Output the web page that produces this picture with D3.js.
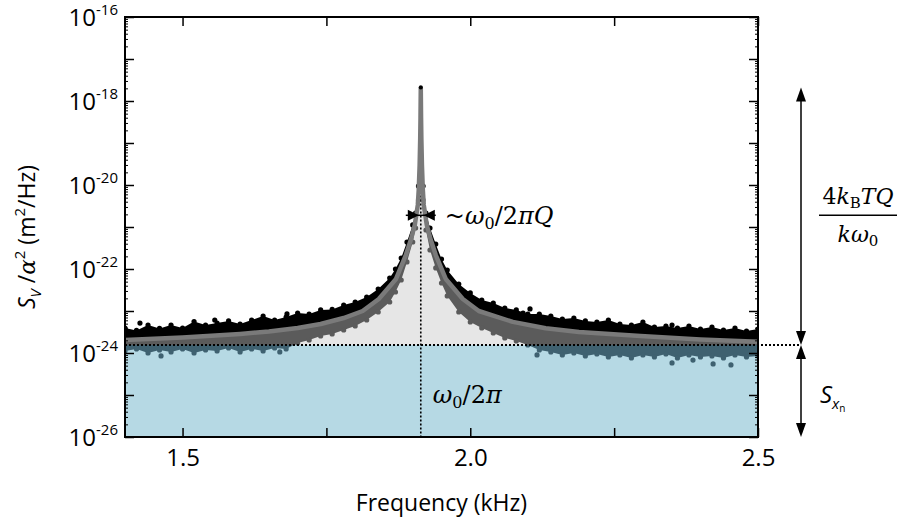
<!DOCTYPE html>
<html lang="en">
<head>
<meta charset="utf-8">
<title>Thermal spectrum</title>
<script src="https://cdn.jsdelivr.net/npm/d3@7"></script>
<style>
  body { margin: 0; background: #fff; }
  text { font-family: "Open Sans", sans-serif; fill: #000; }
  .math { font-family: "DejaVu Serif", serif; }
</style>
</head>
<body>
<div id="chart"></div>
<script>
// ---- data ----
const xTicks = [1.5, 1.75, 2.0, 2.25, 2.5];
const xTickLabels = ["1.5", "", "2.0", "", "2.5"];
const yLabelExps = [-16, -18, -20, -22, -24, -26];

// resonance, noise floor, peak height
const f0 = 1.914;
const floorPsd = 1.55e-24;
const peakPsd = 2.1e-18;
const widthMarkPsd = 1.9e-21;

// fitted curve (kHz, m^2/Hz)
const fitFreq = [1.40, 1.50, 1.60, 1.65, 1.70, 1.74, 1.78, 1.813, 1.841, 1.871, 1.888, 1.8966, 1.9036, 1.9088,
  1.9105, 1.912, 1.913, 1.9135, 1.914, 1.9145, 1.915, 1.916, 1.9175, 1.9192, 1.9244, 1.9314, 1.9401, 1.9574,
  1.987, 2.0148, 2.074, 2.131, 2.189, 2.296, 2.40, 2.50];
const fitPsd = [2.04e-24, 2.35e-24, 2.85e-24, 3.25e-24, 3.95e-24, 4.9e-24, 6.8e-24, 1.0e-23, 1.93e-23, 5.8e-23, 2.15e-22, 4.9e-22, 1.12e-21, 3.34e-21,
  8e-21, 3e-20, 1.3e-19, 4e-19, 2.1e-18, 4e-19, 1.3e-19, 3e-20, 8e-21, 3.34e-21, 1.12e-21, 4.9e-22, 2.15e-22, 5.8e-23,
  1.93e-23, 1.0e-23, 5.5e-24, 3.9e-24, 3.16e-24, 2.54e-24, 2.1e-24, 1.85e-24];

// scatter bands: upper edge of the black points, lower edge of the grey points
const bandFreq = [1.40, 1.42, 1.44, 1.46, 1.48, 1.50, 1.52, 1.54, 1.56, 1.58, 1.60, 1.62, 1.64, 1.66, 1.68, 1.70,
  1.72, 1.74, 1.76, 1.78, 1.80, 1.82, 1.84, 1.86, 1.87, 1.88, 1.89, 1.90, 1.905, 1.91, 1.913, 1.914, 1.915,
  1.918, 1.923, 1.93, 1.94, 1.95, 1.96, 1.98, 2.00, 2.02, 2.04, 2.06, 2.08, 2.10, 2.12, 2.14, 2.16, 2.18, 2.20,
  2.22, 2.24, 2.26, 2.28, 2.30, 2.32, 2.34, 2.36, 2.38, 2.40, 2.42, 2.44, 2.46, 2.48, 2.50];
const blackTop = [3.94e-24, 3.44e-24, 4.64e-24, 3.84e-24, 4.64e-24, 3.94e-24, 5.6e-24, 4.64e-24, 5.17e-24, 5.8e-24, 4.9e-24, 6.11e-24, 7.6e-24, 6.11e-24, 7.2e-24, 8.96e-24,
  8.49e-24, 1.06e-23, 1.09e-23, 1.39e-23, 1.64e-23, 2.15e-23, 3.34e-23, 6.11e-23, 1.0e-22, 1.83e-22, 4.39e-22, 1.12e-21, 2.15e-21, 9.46e-21, 1.3e-19, 2.1e-18, 1.3e-19,
  9.46e-21, 2.15e-21, 9.46e-22, 3.94e-22, 1.73e-22, 9.46e-23, 4.39e-23, 2.69e-23, 1.83e-23, 1.55e-23, 1.18e-23, 1.06e-23, 8.49e-24, 8.49e-24, 7.6e-24, 6.45e-24, 6.81e-24, 5.8e-24,
  5.47e-24, 6.11e-24, 4.9e-24, 4.64e-24, 5.47e-24, 4.15e-24, 4.39e-24, 3.94e-24, 4.39e-24, 3.73e-24, 4.15e-24, 3.53e-24, 3.94e-24, 3.34e-24, 3.73e-24];
const greyBottom = [1.12e-24, 1.25e-24, 1.0e-24, 1.18e-24, 1.06e-24, 1.25e-24, 1.0e-24, 1.18e-24, 1.12e-24, 1.32e-24, 1.06e-24, 1.25e-24, 1.12e-24, 1.32e-24, 1.25e-24, 1.73e-24,
  2.04e-24, 2.54e-24, 2.83e-24, 3.53e-24, 4.39e-24, 6.11e-24, 9.46e-24, 1.64e-23, 2.83e-23, 5.47e-23, 1.47e-22, 4.39e-22, 9.46e-22, 4.39e-21, 1.0e-19, 1.8e-18, 1.0e-19,
  4.39e-21, 8.49e-22, 2.83e-22, 1.06e-22, 4.64e-23, 2.28e-23, 9.46e-24, 5.47e-24, 3.94e-24, 2.99e-24, 2.28e-24, 1.93e-24, 1.55e-24, 1.18e-24, 1.06e-24, 8.96e-25, 1.0e-24, 8.49e-25,
  9.46e-25, 8.03e-25, 8.96e-25, 7.6e-25, 8.96e-25, 8.03e-25, 9.46e-25, 7.6e-25, 8.96e-25, 8.03e-25, 8.49e-25, 7.6e-25, 8.96e-25, 8.03e-25, 8.49e-25];

// stray points
const blackOutFreq = [1.426, 1.556, 1.6815, 2.0917, 2.1038, 2.3506];
const blackOutPsd = [5.17e-24, 6.1e-24, 8.5e-24, 8.96e-24, 1.12e-23, 4.64e-24];
const greyOutFreq = [1.4626, 1.669, 2.116, 2.3506, 2.387, 2.422, 2.453];
const greyOutPsd = [8.5e-25, 1.06e-24, 9.0e-25, 5.8e-25, 6.8e-25, 5.5e-25, 5.2e-25];

// ---- chart ----
const W = 900, H = 522;
const svg = d3.select("#chart").append("svg").attr("width", W).attr("height", H);

const x = d3.scaleLinear().domain([1.4, 2.5]).range([125, 758]);
const y = d3.scaleLog().domain([1e-26, 1e-16]).range([437, 17]);
const [xl, xr] = x.range();
const [yb, yt] = y.range();

const fit = fitFreq.map((f, i) => [f, fitPsd[i]]);
const blackEdge = bandFreq.map((f, i) => [f, blackTop[i]]);
const greyEdge = bandFreq.map((f, i) => [f, greyBottom[i]]);

const line = d3.line().x(d => x(d[0])).y(d => y(d[1]));

const defs = svg.append("defs");
defs.append("clipPath").attr("id", "above").append("rect")
  .attr("x", xl).attr("y", yt).attr("width", xr - xl).attr("height", y(floorPsd) - yt);
defs.append("clipPath").attr("id", "below").append("rect")
  .attr("x", xl).attr("y", y(floorPsd)).attr("width", xr - xl).attr("height", yb - y(floorPsd));
defs.append("clipPath").attr("id", "plot").append("rect")
  .attr("x", xl).attr("y", yt).attr("width", xr - xl).attr("height", yb - yt);

const plot = svg.append("g").attr("clip-path", "url(#plot)");

// light grey area under the fit, above the floor
plot.append("path")
  .datum(fit)
  .attr("fill", "#e6e6e6")
  .attr("d", d3.area().x(d => x(d[0])).y0(y(floorPsd)).y1(d => y(Math.max(d[1], floorPsd))));

// noise floor region
plot.append("rect")
  .attr("x", xl).attr("y", y(floorPsd))
  .attr("width", xr - xl).attr("height", yb - y(floorPsd))
  .attr("fill", "#b6d9e4");

// grey points band (dark grey above floor, slate below)
const greyPoly = greyEdge.concat(fit.slice().reverse());
[["above", "#5b5b5b"], ["below", "#3f6170"]].forEach(([clip, col]) => {
  const g = plot.append("g").attr("clip-path", `url(#${clip})`);
  g.append("path").attr("d", line(greyPoly) + "Z").attr("fill", col);
  g.selectAll("circle.e").data(greyEdge.filter(d => d[1] < 1e-20)).join("circle")
    .attr("cx", d => x(d[0])).attr("cy", d => y(d[1])).attr("r", 2.6).attr("fill", col);
  g.selectAll("circle.o").data(greyOutFreq.map((f, i) => [f, greyOutPsd[i]])).join("circle")
    .attr("class", "o")
    .attr("cx", d => x(d[0])).attr("cy", d => y(d[1])).attr("r", 2.6).attr("fill", col);
});

// black points band
const blackPoly = blackEdge.concat(fit.slice().reverse());
plot.append("path").attr("d", line(blackPoly) + "Z").attr("fill", "#000");
plot.append("g").selectAll("circle")
  .data(blackEdge.filter(d => d[1] < 1e-20).concat(blackOutFreq.map((f, i) => [f, blackOutPsd[i]])))
  .join("circle")
  .attr("cx", d => x(d[0])).attr("cy", d => y(d[1])).attr("r", 2.6).attr("fill", "#000");

// dotted resonance line
plot.append("line")
  .attr("x1", x(f0)).attr("x2", x(f0))
  .attr("y1", y(peakPsd) + 4).attr("y2", yb)
  .attr("stroke", "#000").attr("stroke-width", 1.6).attr("stroke-dasharray", "2,2");

// fitted curve
plot.append("path")
  .datum(fit)
  .attr("fill", "none")
  .attr("stroke", "#7a7a7a")
  .attr("stroke-width", 4.5)
  .attr("stroke-linejoin", "round")
  .attr("d", line);

// peak dot
plot.append("circle").attr("cx", x(f0)).attr("cy", y(peakPsd)).attr("r", 2).attr("fill", "#000");

// dotted floor line, runs out to the arrows
svg.append("line")
  .attr("x1", xl).attr("x2", 800)
  .attr("y1", y(floorPsd)).attr("y2", y(floorPsd))
  .attr("stroke", "#000").attr("stroke-width", 2).attr("stroke-dasharray", "2,2");

// ---- axes ----
function styleAxis(g) {
  g.select(".domain").remove();
  g.selectAll(".tick line").attr("stroke", "#000").attr("stroke-width", 1.5);
}
svg.append("g").attr("transform", `translate(0,${yb})`)
  .call(d3.axisBottom(x).tickValues(xTicks).tickSizeInner(-9).tickSizeOuter(0).tickPadding(12)
    .tickFormat((d, i) => xTickLabels[i]))
  .call(styleAxis)
  .call(g => g.selectAll("text").attr("font-size", 24).attr("font-family", "Open Sans"));
svg.append("g").attr("transform", `translate(0,${yt})`)
  .call(d3.axisTop(x).tickValues(xTicks).tickSizeInner(-9).tickSizeOuter(0).tickFormat(""))
  .call(styleAxis);

const majorY = d3.range(-26, -15).map(e => Math.pow(10, e));
const minorY = [];
d3.range(-26, -16).forEach(e => { for (let k = 2; k <= 9; k++) minorY.push(k * Math.pow(10, e)); });
[[d3.axisLeft, xl], [d3.axisRight, xr]].forEach(([ax, px]) => {
  svg.append("g").attr("transform", `translate(${px},0)`)
    .call(ax(y).tickValues(majorY).tickSizeInner(-9).tickSizeOuter(0).tickFormat(""))
    .call(styleAxis);
  svg.append("g").attr("transform", `translate(${px},0)`)
    .call(ax(y).tickValues(minorY).tickSizeInner(-3).tickSizeOuter(0).tickFormat(""))
    .call(styleAxis)
    .call(g => g.selectAll(".tick line").attr("stroke-width", 1));
});

svg.append("rect")
  .attr("x", xl).attr("y", yt).attr("width", xr - xl).attr("height", yb - yt)
  .attr("fill", "none").attr("stroke", "#000").attr("stroke-width", 2);

// y tick labels 10^n
yLabelExps.forEach(e => {
  const t = svg.append("text")
    .attr("x", 118).attr("y", y(Math.pow(10, e))).attr("dy", "0.38em")
    .attr("text-anchor", "end").attr("font-size", 24);
  t.append("tspan").text("10");
  t.append("tspan").attr("dy", -11).attr("font-size", 15).text(String(e));
});

// axis titles
svg.append("text")
  .attr("x", (xl + xr) / 2).attr("y", 503).attr("dy", "0.35em")
  .attr("text-anchor", "middle").attr("font-size", 23)
  .text("Frequency (kHz)");

const yt2 = svg.append("text")
  .attr("transform", "translate(35,237) rotate(-90)")
  .attr("text-anchor", "middle").attr("font-size", 23);
yt2.append("tspan").attr("font-style", "italic").text("S");
yt2.append("tspan").attr("font-style", "italic").attr("font-size", 15).attr("dy", 6).text("V");
yt2.append("tspan").attr("dy", -6).text(" /");
yt2.append("tspan").attr("font-family", "DejaVu Serif").attr("font-style", "italic").text("α");
yt2.append("tspan").attr("font-size", 15).attr("dy", -10).text("2");
yt2.append("tspan").attr("dy", 10).text(" (m");
yt2.append("tspan").attr("font-size", 15).attr("dy", -10).text("2");
yt2.append("tspan").attr("dy", 10).text("/Hz)");

// ---- annotations ----
function tri(cx, cy, dir, w, h) {
  // dir: "up" | "down" | "left" | "right", tip at (cx, cy)
  const p = {
    up: [[cx, cy], [cx - w / 2, cy + h], [cx + w / 2, cy + h]],
    down: [[cx, cy], [cx - w / 2, cy - h], [cx + w / 2, cy - h]],
    right: [[cx, cy], [cx - h, cy - w / 2], [cx - h, cy + w / 2]],
    left: [[cx, cy], [cx + h, cy - w / 2], [cx + h, cy + w / 2]]
  }[dir];
  svg.append("path").attr("d", d3.line()(p) + "Z").attr("fill", "#000");
}

// linewidth marker
const mx = x(f0), my = y(widthMarkPsd);
svg.append("line").attr("x1", mx - 15).attr("x2", mx + 15).attr("y1", my).attr("y2", my)
  .attr("stroke", "#000").attr("stroke-width", 1.5);
tri(mx - 2, my, "right", 11, 11);
tri(mx + 3, my, "left", 11, 11);

const lw = svg.append("text").attr("class", "math")
  .attr("x", mx + 24).attr("y", my).attr("dy", "0.35em").attr("font-size", 24);
lw.append("tspan").text("~");
lw.append("tspan").attr("font-style", "italic").text("ω");
lw.append("tspan").attr("font-size", 16).attr("dy", 5).text("0");
lw.append("tspan").attr("dy", -5).text("/2");
lw.append("tspan").attr("font-style", "italic").text("πQ");

const rf = svg.append("text").attr("class", "math")
  .attr("x", mx + 12).attr("y", y(1e-25)).attr("dy", "0.35em").attr("font-size", 24);
rf.append("tspan").attr("font-style", "italic").text("ω");
rf.append("tspan").attr("font-size", 16).attr("dy", 5).text("0");
rf.append("tspan").attr("dy", -5).text("/2");
rf.append("tspan").attr("font-style", "italic").text("π");

// height arrows on the right
const ax = 801;
svg.append("line").attr("x1", ax).attr("x2", ax).attr("y1", y(peakPsd) + 10).attr("y2", y(floorPsd) - 10)
  .attr("stroke", "#000").attr("stroke-width", 1.5);
tri(ax, y(peakPsd), "up", 10, 14);
tri(ax, y(floorPsd), "down", 10, 14);
svg.append("line").attr("x1", ax).attr("x2", ax).attr("y1", y(floorPsd) + 10).attr("y2", yb - 10)
  .attr("stroke", "#000").attr("stroke-width", 1.5);
tri(ax, y(floorPsd), "up", 10, 14);
tri(ax, yb, "down", 10, 14);

// 4 kB T Q / k w0
const fx = 858, fy = y(widthMarkPsd);
const num = svg.append("text").attr("class", "math")
  .attr("x", fx).attr("y", fy - 11).attr("text-anchor", "middle").attr("font-size", 22);
num.append("tspan").text("4");
num.append("tspan").attr("font-style", "italic").text("k");
num.append("tspan").attr("font-size", 15).attr("dy", 4).text("B");
num.append("tspan").attr("dy", -4).attr("font-style", "italic").text("TQ");
svg.append("line").attr("x1", fx - 39).attr("x2", fx + 39).attr("y1", fy).attr("y2", fy)
  .attr("stroke", "#000").attr("stroke-width", 1.5);
const den = svg.append("text").attr("class", "math")
  .attr("x", fx).attr("y", fy + 27).attr("text-anchor", "middle").attr("font-size", 22);
den.append("tspan").attr("font-style", "italic").text("kω");
den.append("tspan").attr("font-size", 15).attr("dy", 4).text("0");

// S_xn
const sx = svg.append("text").attr("x", 820).attr("y", y(1e-25)).attr("dy", "0.35em").attr("font-size", 24);
sx.append("tspan").attr("font-style", "italic").text("S");
sx.append("tspan").attr("font-style", "italic").attr("font-size", 15).attr("dy", 6).text("x");
sx.append("tspan").attr("font-size", 10).attr("dy", 3).text("n");
</script>
</body>
</html>
